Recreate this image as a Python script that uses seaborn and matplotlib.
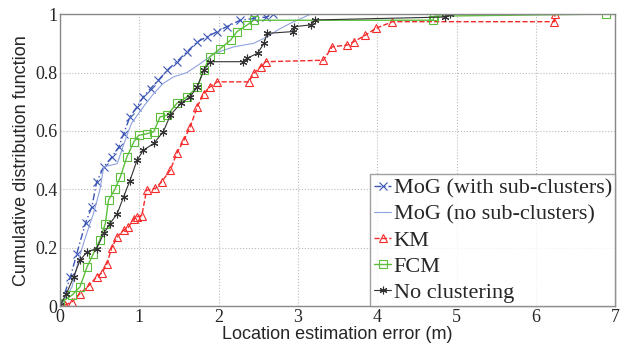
import numpy as np
import matplotlib.pyplot as plt
import seaborn as sns

# CDF knots (x = error in m, y = CDF)
mog_sub_x = [0.0, 0.13, 0.21, 0.32, 0.40, 0.46, 0.55, 0.65, 0.74, 0.80, 0.88, 0.97, 1.05,
             1.14, 1.24, 1.35, 1.47, 1.60, 1.73, 1.85, 1.98, 2.10, 2.27, 2.44, 2.60, 2.69]
mog_sub_y = [0.0, 0.10, 0.18, 0.285, 0.34, 0.425, 0.477, 0.51, 0.545, 0.59, 0.648, 0.683, 0.717,
             0.745, 0.774, 0.808, 0.837, 0.871, 0.905, 0.922, 0.94, 0.957, 0.979, 0.985, 0.99, 1.0]

mog_nosub_x = [0.0, 0.15, 0.23, 0.32, 0.42, 0.50, 0.55, 0.72, 0.82, 0.90, 1.05, 1.18, 1.30,
               1.43, 1.60, 1.77, 1.94, 2.19, 2.44, 2.61, 2.74, 2.90, 3.16]
mog_nosub_y = [0.0, 0.066, 0.157, 0.237, 0.317, 0.397, 0.477, 0.488, 0.568, 0.626, 0.683, 0.728, 0.763,
               0.785, 0.80, 0.831, 0.865, 0.888, 0.90, 0.922, 0.945, 0.968, 1.0]

km_x = [0.06, 0.15, 0.25, 0.36, 0.46, 0.53, 0.59, 0.65, 0.72, 0.80, 0.86, 0.93, 0.97, 1.03,
        1.09, 1.20, 1.28, 1.39, 1.47, 1.56, 1.64, 1.73, 1.81, 1.89, 1.98, 2.38, 2.44, 2.53,
        2.59, 3.32, 3.43, 3.62, 3.70, 3.85, 3.98, 4.19, 6.23, 6.24]
km_y = [0.003, 0.015, 0.043, 0.07, 0.10, 0.115, 0.145, 0.20, 0.237, 0.26, 0.27, 0.30, 0.306, 0.31,
        0.397, 0.403, 0.426, 0.466, 0.523, 0.568, 0.614, 0.683, 0.728, 0.751, 0.768, 0.768, 0.797, 0.82,
        0.837, 0.842, 0.888, 0.894, 0.905, 0.928, 0.951, 0.974, 0.974, 1.0]

fcm_x = [0.0, 0.15, 0.25, 0.34, 0.42, 0.50, 0.57, 0.61, 0.69, 0.76, 0.84, 0.93, 0.99, 1.09,
         1.18, 1.26, 1.35, 1.47, 1.60, 1.73, 1.81, 1.89, 2.02, 2.15, 2.23, 2.36, 2.44, 4.70,
         4.72, 6.88]
fcm_y = [0.01, 0.038, 0.066, 0.135, 0.18, 0.226, 0.283, 0.363, 0.40, 0.443, 0.51, 0.563, 0.585, 0.59,
         0.597, 0.648, 0.654, 0.694, 0.717, 0.751, 0.808, 0.854, 0.882, 0.911, 0.94, 0.963, 0.979, 0.979,
         0.993, 1.0]

noclu_x = [0.0, 0.08, 0.17, 0.25, 0.34, 0.46, 0.55, 0.63, 0.72, 0.80, 0.88, 0.97, 1.05, 1.18,
           1.30, 1.39, 1.52, 1.64, 1.73, 1.81, 1.89, 2.31, 2.36, 2.49, 2.57, 2.61, 2.93, 2.95,
           3.16, 3.22, 4.85, 4.91]
noclu_y = [0.003, 0.043, 0.10, 0.157, 0.186, 0.197, 0.249, 0.283, 0.317, 0.374, 0.43, 0.50, 0.534, 0.557,
           0.597, 0.654, 0.694, 0.717, 0.751, 0.808, 0.837, 0.837, 0.849, 0.866, 0.90, 0.934, 0.94, 0.957,
           0.963, 0.98, 0.99, 1.0]

x_ticks = [0, 1, 2, 3, 4, 5, 6, 7]
y_ticks = [0, 0.2, 0.4, 0.6, 0.8, 1]
y_tick_labels = ['0', '0.2', '0.4', '0.6', '0.8', '1']

sns.set_style('white')
plt.rcParams['font.family'] = ['Liberation Serif', 'DejaVu Serif']

fig, ax = plt.subplots(figsize=(6.33, 3.44), dpi=100)
fig.subplots_adjust(left=0.095, right=0.972, top=0.959, bottom=0.11)

series = [
    (mog_sub_x, mog_sub_y, 'MoG (with sub-clusters)', '#3a55b4', 'x', (0, (5, 2, 1, 2)), 1.0),
    (mog_nosub_x, mog_nosub_y, 'MoG (no sub-clusters)', '#8fa2dc', None, '-', 0.8),
    (km_x, km_y, 'KM', '#f52a2a', '^', '--', 1.0),
    (fcm_x, fcm_y, 'FCM', '#5cbf3c', 's', '-', 1.0),
    (noclu_x, noclu_y, 'No clustering', '#333333', (6, 2, 0), '-', 0.8),
]

for xs, ys, label, color, marker, ls, lw in series:
    sns.lineplot(x=xs, y=ys, ax=ax, color=color, marker=marker, linestyle=ls,
                 linewidth=lw, markersize=5.5, markerfacecolor='none',
                 markeredgecolor=color, markeredgewidth=0.8,
                 estimator=None, sort=False, label=label)

ax.set_xlim(0, 7)
ax.set_ylim(0, 1)
ax.set_xticks(x_ticks)
ax.set_yticks(y_ticks)
ax.set_yticklabels(y_tick_labels)
ax.tick_params(direction='in', labelsize=13, length=4, color='#555555', pad=2)
ax.grid(True, linestyle=':', color='#bbbbbb', linewidth=0.8)
for sp in ax.spines.values():
    sp.set_color('#888888')
    sp.set_linewidth(1.0)

ax.set_xlabel('Location estimation error (m)', family='Liberation Sans', fontsize=13, labelpad=0)
ax.set_ylabel('Cumulative distribution function', family='Liberation Sans', fontsize=13, labelpad=4)

leg = ax.legend(loc='lower right', borderaxespad=0, fontsize=16, frameon=True, fancybox=False,
                handlelength=0.8, handletextpad=0.1, borderpad=0.15, labelspacing=0.25)
leg.get_frame().set_edgecolor('#888888')
leg.get_frame().set_linewidth(1.0)

fig.savefig('out.png', dpi=100)
